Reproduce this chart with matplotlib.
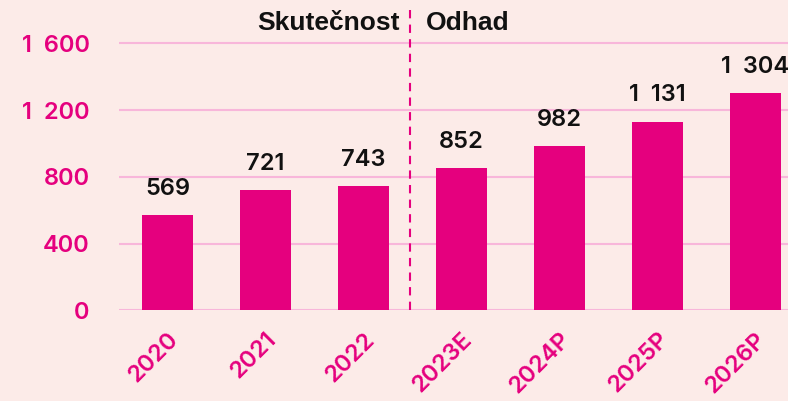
import matplotlib
matplotlib.use("Agg")
import matplotlib.pyplot as plt

categories = ["2020", "2021", "2022", "2023E", "2024P", "2025P", "2026P"]
values = [569, 721, 743, 852, 982, 1131, 1304]
yticks = [0, 400, 800, 1200, 1600]
ytick_labels = ["0", "400", "800", "1 200", "1 600"]
label_actual = "Skutečnost"
label_forecast = "Odhad"

BG = "#FCEBE8"
PINK = "#E5007E"
GRID = "#F8B6DA"
FONT = "Inter"
SEP = "  "  # Inter's space is narrow; widen the thousands gap


def widen(s):
    return s.replace(" ", SEP)


W, H = 788, 401
fig = plt.figure(figsize=(W / 100, H / 100), dpi=100, facecolor=BG)
left_px, right_px, bottom_px, top_px = 119, 788, 310.3, 5
ax = fig.add_axes([left_px / W, (H - bottom_px) / H, (right_px - left_px) / W, (bottom_px - top_px) / H])
ax.set_facecolor(BG)

x = list(range(len(categories)))
ax.bar(x, values, width=0.52, color=PINK, zorder=3)

ax.set_xlim(-0.495, 6.335)
ax.set_ylim(0, 1830)
ax.set_yticks(yticks)
ax.set_yticklabels([widen(t) for t in ytick_labels])
ax.grid(axis="y", color=GRID, linewidth=1.5, zorder=0)
for s in ax.spines.values():
    s.set_visible(False)
ax.tick_params(axis="y", length=0, pad=21, labelcolor=PINK, labelsize=17)
ax.tick_params(axis="x", length=0, pad=13, labelcolor=PINK, labelsize=17)
for lab in ax.get_yticklabels():
    lab.set_fontfamily(FONT)
    lab.set_fontweight(600)

ax.set_xticks(x)
ax.set_xticklabels(categories, rotation=45, ha="right", rotation_mode="anchor",
                   fontfamily=FONT, fontweight=600)

for xi, v in zip(x, values):
    txt = widen(f"{v:,}".replace(",", " "))
    ax.annotate(txt, (xi, v), xytext=(0, 14.5), textcoords="offset points",
                ha="center", va="baseline", fontsize=17, fontweight=600,
                fontfamily=FONT, color="#111111", annotation_clip=False)

split = 2.474
ax.axvline(split, ymin=0, ymax=1, color=PINK, linestyle=(0, (4, 3)), linewidth=1.5, zorder=4)
ax.text(split - 0.1, 1720, label_actual, ha="right", va="center", fontsize=19,
        fontweight="bold", fontfamily="Liberation Sans", color="#111111")
ax.text(split + 0.16, 1720, label_forecast, ha="left", va="center", fontsize=19,
        fontweight="bold", fontfamily="Liberation Sans", color="#111111")

fig.savefig("out.png", dpi=100, facecolor=BG)
